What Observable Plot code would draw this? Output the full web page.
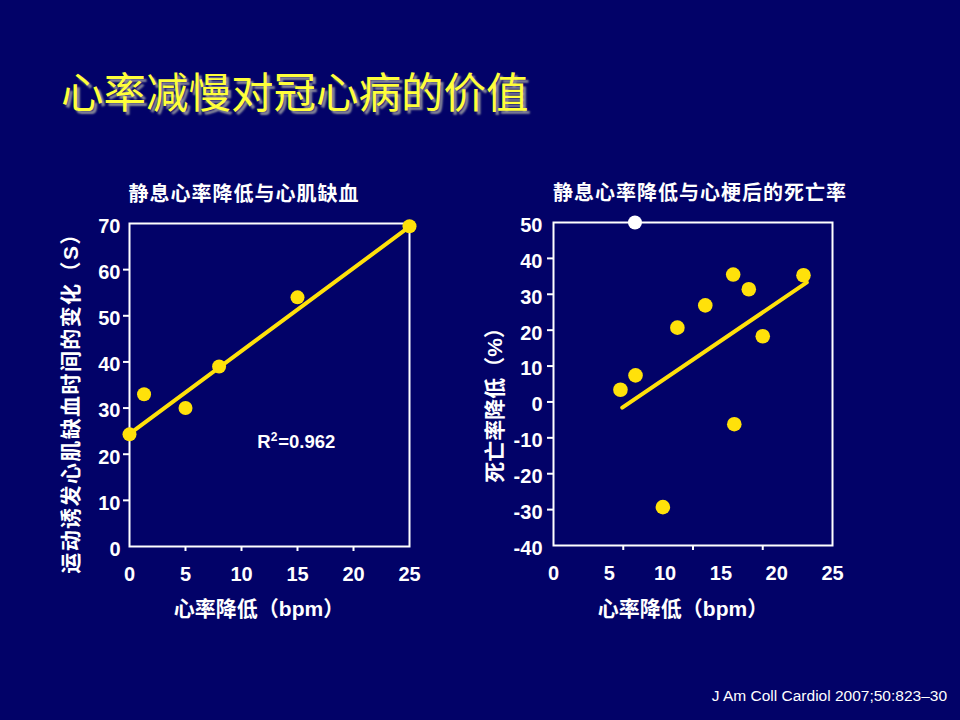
<!DOCTYPE html>
<html>
<head>
<meta charset="utf-8">
<script src="https://cdn.jsdelivr.net/npm/d3@7"></script>
<script src="https://cdn.jsdelivr.net/npm/@observablehq/plot@0.6"></script>
<style>
  html, body { margin:0; padding:0; }
  body { width:960px; height:720px; background:#020268; position:relative; overflow:hidden;
         font-family:"Liberation Sans", Arial, "Noto Sans CJK SC", sans-serif; color:#fff; }
  .abs { position:absolute; white-space:nowrap; }
  #title { left:61px; top:67px; font-family:"Noto Sans CJK SC", sans-serif; font-size:42.5px; font-weight:400;
           letter-spacing:0px; color:#FFFF3A; text-shadow:3px 3px 2px #8a8a9a; line-height:1.1; }
  .ctitle { font-family:"Noto Sans CJK SC", sans-serif; font-size:20px; font-weight:bold; letter-spacing:1px;
            transform:translate(-50%,-50%); }
  .atitle { font-family:"Liberation Sans", "Noto Sans CJK SC", sans-serif; font-size:21px; font-weight:bold; }
  .xt { transform:translate(-50%,-50%); }
  .yt { transform:translate(-50%,-50%) rotate(-90deg); }
  #caption { right:13px; top:687px; font-size:15.5px; font-family:"Liberation Sans", Arial, sans-serif; }
  svg { position:absolute; }
</style>
</head>
<body>
<div id="title" class="abs">心率减慢对冠心病的价值</div>
<div class="abs ctitle" style="left:244px; top:192px;">静息心率降低与心肌缺血</div>
<div class="abs ctitle" style="left:700px; top:191px;">静息心率降低与心梗后的死亡率</div>
<div class="abs atitle xt" style="left:259px; top:607px;">心率降低（bpm）</div>
<div class="abs atitle xt" style="left:683px; top:607px;">心率降低（bpm）</div>
<div class="abs atitle yt" style="left:69px; top:398px; letter-spacing:1.4px;">运动诱发心肌缺血时间的变化（S）</div>
<div class="abs atitle yt" style="left:493px; top:400px;">死亡率降低（%）</div>
<div id="caption" class="abs">J Am Coll Cardiol 2007;50:823–30</div>
<div id="left"></div>
<div id="right"></div>
<script>
// ---- Left panel data: resting HR reduction vs. ischemia time change ----
const leftX = [0, 1.3, 5, 8, 15, 25];
const leftY = [24.3, 33, 30, 39, 54, 69.4];
const leftFitX = [0, 25];
const leftFitY = [24.4, 69.3];
const leftXTicks = [0, 5, 10, 15, 20, 25];
const leftYTicks = [0, 10, 20, 30, 40, 50, 60, 70];
const leftR2 = ["R", "2", "=0.962"];

// ---- Right panel data: resting HR reduction vs. post-MI mortality reduction ----
const rightX = [6.0, 7.35, 9.8, 11.1, 13.6, 16.1, 16.2, 17.5, 18.75, 22.4];
const rightY = [3.4, 7.4, -29.3, 20.7, 26.9, 35.5, -6.2, 31.4, 18.3, 35.3];
const rightOutlierX = [7.3];
const rightOutlierY = [50];
const rightFitX = [6.16, 22.7];
const rightFitY = [-1.6, 33.3];
const rightXTicks = [0, 5, 10, 15, 20, 25];
const rightYTicks = [-40, -30, -20, -10, 0, 10, 20, 30, 40, 50];

const YEL = "#FFE10A";
const numFont = "Liberation Sans, Arial, sans-serif";

const leftData = leftX.map((x, i) => ({x, y: leftY[i]}));
const leftFit = leftFitX.map((x, i) => ({x, y: leftFitY[i]}));

const left = Plot.plot({
  width: 460, height: 460,
  marginLeft: 129, marginRight: 51, marginTop: 53, marginBottom: 84,
  style: {background: "transparent", color: "#fff", fontFamily: numFont, overflow: "visible"},
  x: {domain: [0, 25]},
  y: {domain: [0, 70]},
  marks: [
    Plot.frame({stroke: "#fff", strokeWidth: 2}),
    Plot.axisX({ticks: leftXTicks, tickSize: 0, tickPadding: 20, fontSize: 20, fontWeight: "bold", label: null, tickFormat: d => d}),
    Plot.axisX({ticks: leftXTicks.slice(1, -1), tickSize: 5, text: null, strokeWidth: 2, label: null}),
    Plot.axisY({ticks: leftYTicks, tickSize: 0, tickPadding: 9, fontSize: 20, fontWeight: "bold", label: null, tickFormat: d => d, dy: 3}),
    Plot.axisY({ticks: leftYTicks.slice(1, -1), tickSize: 6, text: null, strokeWidth: 2, label: null}),
    Plot.line(leftFit, {x: "x", y: "y", stroke: YEL, strokeWidth: 4}),
    Plot.dot(leftData, {x: "x", y: "y", r: 7, fill: YEL, stroke: "none"}),
    Plot.text([leftR2[0]], {x: 11.4, y: 22.6, text: d => d, textAnchor: "start", fontSize: 18.5, fontWeight: "bold", fill: "#fff"}),
    Plot.text([leftR2[1]], {x: 11.4, y: 22.6, text: d => d, textAnchor: "start", dx: 13.5, dy: -5, fontSize: 12, fontWeight: "bold", fill: "#fff"}),
    Plot.text([leftR2[2]], {x: 11.4, y: 22.6, text: d => d, textAnchor: "start", dx: 21, fontSize: 18.5, fontWeight: "bold", fill: "#fff"})
  ]
});
left.style.left = "0px"; left.style.top = "170px";
document.getElementById("left").appendChild(left);

const rightData = rightX.map((x, i) => ({x, y: rightY[i]}));
const rightOut = rightOutlierX.map((x, i) => ({x, y: rightOutlierY[i]}));
const rightFit = rightFitX.map((x, i) => ({x, y: rightFitY[i]}));

const right = Plot.plot({
  width: 500, height: 460,
  marginLeft: 93, marginRight: 128, marginTop: 52, marginBottom: 85,
  style: {background: "transparent", color: "#fff", fontFamily: numFont, overflow: "visible"},
  x: {domain: [0, 25]},
  y: {domain: [-40, 50]},
  marks: [
    Plot.frame({stroke: "#fff", strokeWidth: 2}),
    Plot.axisX({ticks: rightXTicks, tickSize: 0, tickPadding: 20, fontSize: 20, fontWeight: "bold", label: null, tickFormat: d => d}),
    Plot.axisX({ticks: [6.25, 12.5, 18.75], tickSize: 5, text: null, strokeWidth: 2, label: null}),
    Plot.axisY({ticks: rightYTicks, tickSize: 0, tickPadding: 11, fontSize: 20, fontWeight: "bold", label: null, tickFormat: d => d, dy: 3}),
    Plot.axisY({ticks: rightYTicks.slice(1, -1), tickSize: 6, text: null, strokeWidth: 2, label: null}),
    Plot.line(rightFit, {x: "x", y: "y", stroke: YEL, strokeWidth: 4}),
    Plot.dot(rightData, {x: "x", y: "y", r: 7.3, fill: YEL, stroke: "none"}),
    Plot.dot(rightOut, {x: "x", y: "y", r: 7, fill: "#fff", stroke: "none"})
  ]
});
right.style.left = "460px"; right.style.top = "170px";
document.getElementById("right").appendChild(right);
</script>
</body>
</html>
